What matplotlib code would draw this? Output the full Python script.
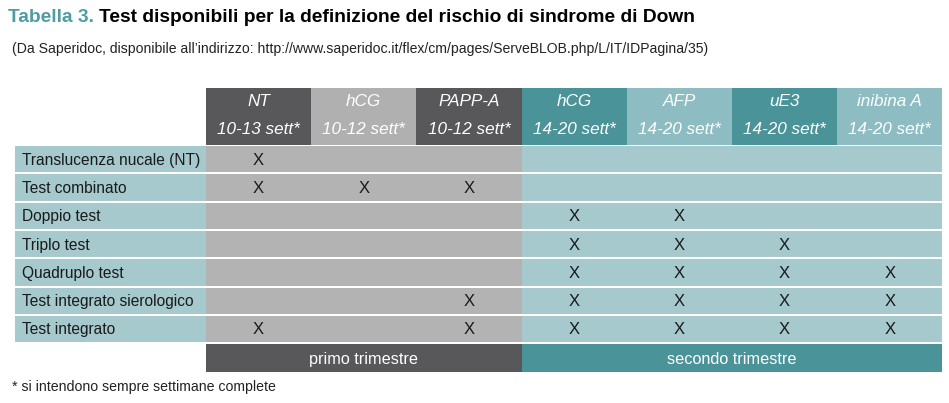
import matplotlib.pyplot as plt
from matplotlib.patches import Rectangle

# table content
col_names = ['NT', 'hCG', 'PAPP-A', 'hCG', 'AFP', 'uE3', 'inibina A']
col_weeks = ['10-13 sett*', '10-12 sett*', '10-12 sett*',
             '14-20 sett*', '14-20 sett*', '14-20 sett*', '14-20 sett*']
row_names = ['Translucenza nucale (NT)', 'Test combinato', 'Doppio test',
             'Triplo test', 'Quadruplo test', 'Test integrato sierologico',
             'Test integrato']
marks = [
    [1, 0, 0, 0, 0, 0, 0],
    [1, 1, 1, 0, 0, 0, 0],
    [0, 0, 0, 1, 1, 0, 0],
    [0, 0, 0, 1, 1, 1, 0],
    [0, 0, 0, 1, 1, 1, 1],
    [0, 0, 1, 1, 1, 1, 1],
    [1, 0, 1, 1, 1, 1, 1],
]
trimesters = ['primo trimestre', 'secondo trimestre']
trim_cols = [3, 4]

# colours
dark_gray = '#58585a'
light_gray = '#b0b0b0'
body_gray = '#b3b3b3'
dark_teal = '#4a9399'
light_teal = '#8dbdc2'
body_teal = '#a5c9cd'
title_teal = '#4f9ca3'

plt.rcParams['font.family'] = ['Liberation Sans Narrow', 'Liberation Sans', 'DejaVu Sans']

fig = plt.figure(figsize=(9.49, 4.03), dpi=100)
ax = fig.add_axes([0, 0, 1, 1])
ax.set_xlim(0, 949)
ax.set_ylim(403, 0)
ax.axis('off')

# layout in pixels
x0 = 15        # left of label column
xc = 206       # left of first data column
cw = 105.2     # column width
hy0, hy1 = 88, 145   # header
ry0 = 146
rh = 28.3
sep = 2
fs = 11.2

# title
t = ax.text(8, 18, 'Tabella 3. ', color=title_teal, fontsize=13.8, fontweight='bold',
            va='center', ha='left')
fig.canvas.draw()
bb = t.get_window_extent()
ax.text(8 + bb.width, 18, 'Test disponibili per la definizione del rischio di sindrome di Down',
        color='black', fontsize=13.8, fontweight='bold', va='center', ha='left')
ax.text(12, 49, "(Da Saperidoc, disponibile all\u2019indirizzo: "
        "http://www.saperidoc.it/flex/cm/pages/ServeBLOB.php/L/IT/IDPagina/35)",
        fontsize=10.1, va='center', ha='left', color='#222222')

# header cells
n_first = trim_cols[0]
for j, (nm, wk) in enumerate(zip(col_names, col_weeks)):
    first = j < n_first
    if first:
        fc = dark_gray if j % 2 == 0 else light_gray
    else:
        fc = dark_teal if (j - n_first) % 2 == 0 else light_teal
    x = xc + j * cw
    ax.add_patch(Rectangle((x, hy0), cw, hy1 - hy0, facecolor=fc, edgecolor='none'))
    cx = x + cw / 2
    ax.text(cx, 102, nm, color='white', fontsize=12.3, style='italic', ha='center', va='center')
    ax.text(cx, 130, wk, color='white', fontsize=12.3, style='italic', ha='center', va='center')

# body rows
for i, rn in enumerate(row_names):
    y = ry0 + i * rh
    h = rh - sep
    ax.add_patch(Rectangle((x0, y), xc - x0, h, facecolor=body_teal, edgecolor='none'))
    ax.text(x0 + 7, y + h / 2 + 1, rn, fontsize=fs, ha='left', va='center', color='#1a1a1a')
    ax.add_patch(Rectangle((xc, y), n_first * cw, h, facecolor=body_gray, edgecolor='none'))
    ax.add_patch(Rectangle((xc + n_first * cw, y), (len(col_names) - n_first) * cw, h,
                           facecolor=body_teal, edgecolor='none'))
    for j, m in enumerate(marks[i]):
        if m:
            ax.text(xc + j * cw + cw / 2, y + h / 2 + 1, 'X', fontsize=12,
                    ha='center', va='center', color='#1a1a1a')

# trimester band
yb = ry0 + len(row_names) * rh
xs = xc
for k, (lab, n) in enumerate(zip(trimesters, trim_cols)):
    fc = dark_gray if k == 0 else dark_teal
    ax.add_patch(Rectangle((xs, yb), n * cw, rh, facecolor=fc, edgecolor='none'))
    ax.text(xs + n * cw / 2, yb + rh / 2 + 1, lab, color='white', fontsize=11.7,
            ha='center', va='center')
    xs += n * cw

ax.text(12, 387, '* si intendono sempre settimane complete', fontsize=10.2,
        ha='left', va='center', color='#222222')

fig.savefig('out.png', dpi=100)
